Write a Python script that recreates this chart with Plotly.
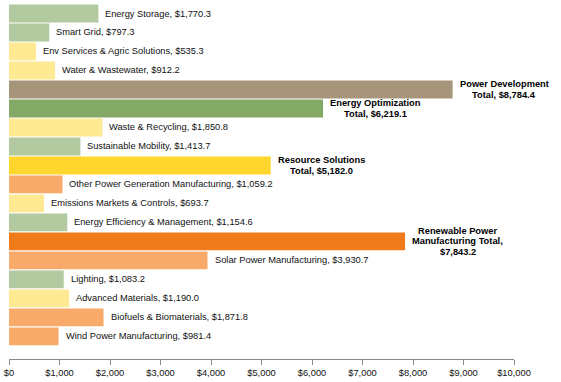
import plotly.graph_objects as go

categories = [
    "Energy Storage", "Smart Grid", "Env Services & Agric Solutions", "Water & Wastewater",
    "Power Development Total", "Energy Optimization Total", "Waste & Recycling",
    "Sustainable Mobility", "Resource Solutions Total", "Other Power Generation Manufacturing",
    "Emissions Markets & Controls", "Energy Efficiency & Management",
    "Renewable Power Manufacturing Total", "Solar Power Manufacturing", "Lighting",
    "Advanced Materials", "Biofuels & Biomaterials", "Wind Power Manufacturing",
]
values = [1770.3, 797.3, 535.3, 912.2, 8784.4, 6219.1, 1850.8, 1413.7, 5182.0, 1059.2,
          693.7, 1154.6, 7843.2, 3930.7, 1083.2, 1190.0, 1871.8, 981.4]
groups = ["opt", "opt", "res", "res", "pd_total", "opt_total", "res", "opt", "res_total",
          "ren", "res", "opt", "ren_total", "ren", "opt", "res", "ren", "ren"]
label_lines = {
    "Power Development Total": ["Power Development", "Total, {v}"],
    "Energy Optimization Total": ["Energy Optimization", "Total, {v}"],
    "Resource Solutions Total": ["Resource Solutions", "Total, {v}"],
    "Renewable Power Manufacturing Total": ["Renewable Power", "Manufacturing Total,", "{v}"],
}
group_colors = {
    "opt": "#B3C99F", "res": "#FFE993", "pd_total": "#A6957B", "opt_total": "#84A866",
    "res_total": "#FFD62E", "ren": "#F7AA6A", "ren_total": "#F07B1A",
}

FONT = "Liberation Sans, Arial, sans-serif"
FS = 9.3
LINE_H = 10.3

# Arial Bold advance widths (1/1000 em) for estimating label block width
BOLD_W = {' ': 278, ',': 278, '.': 278, '$': 556, 'A': 722, 'B': 722, 'C': 722, 'D': 722,
          'E': 667, 'F': 611, 'G': 778, 'H': 722, 'I': 278, 'M': 833, 'N': 722, 'O': 778,
          'P': 667, 'R': 722, 'S': 667, 'T': 611, 'a': 556, 'b': 611, 'c': 556, 'd': 611,
          'e': 556, 'f': 333, 'g': 611, 'i': 278, 'l': 278, 'm': 889, 'n': 611, 'o': 611,
          'p': 611, 'r': 389, 's': 556, 't': 333, 'u': 611, 'v': 556, 'w': 778, 'y': 556,
          'z': 500}


def bold_width(s):
    return sum(BOLD_W.get(ch, 556) for ch in s) * FS / 1000.0


fig = go.Figure()
fig.add_trace(go.Bar(
    y=categories, x=values, orientation="h",
    marker=dict(color=[group_colors[g] for g in groups], line=dict(width=0)),
    hoverinfo="skip",
))

annotations = []
for c, v in zip(categories, values):
    vs = "${:,.1f}".format(v)
    if c in label_lines:
        lines = [l.format(v=vs) for l in label_lines[c]]
        maxw = max(bold_width(l) for l in lines)
        n = len(lines)
        for i, line in enumerate(lines):
            annotations.append(dict(x=v, y=c, xref="x", yref="y", text="<b>" + line + "</b>",
                                    showarrow=False, xanchor="center", yanchor="middle",
                                    xshift=7 + maxw / 2, yshift=-(i - (n - 1) / 2) * LINE_H,
                                    borderpad=0,
                                    font=dict(family=FONT, size=FS, color="#000")))
    else:
        annotations.append(dict(x=v, y=c, xref="x", yref="y", text=f"{c}, {vs}",
                                showarrow=False, xanchor="left", yanchor="middle",
                                xshift=6, borderpad=0,
                                font=dict(family=FONT, size=FS, color="#111")))

fig.update_layout(
    width=561, height=382,
    margin=dict(l=8, r=47, t=4, b=21),
    paper_bgcolor="white", plot_bgcolor="white",
    showlegend=False, bargap=0.06,
    annotations=annotations,
    xaxis=dict(range=[0, 10000], dtick=1000, tickprefix="$", tickformat=",",
               showgrid=False, zeroline=False, showline=True, linecolor="#888",
               linewidth=1, ticks="outside", ticklen=5, tickcolor="#888",
               tickfont=dict(family=FONT, size=FS, color="#111")),
    yaxis=dict(categoryorder="array", categoryarray=categories, range=[18.19, -0.5],
               showticklabels=False, showgrid=False, zeroline=False, showline=False),
    font=dict(family=FONT),
)

fig.write_html("out.html", config={"displayModeBar": False},
               post_script="document.body.style.margin='0';document.body.style.overflow='hidden';")
